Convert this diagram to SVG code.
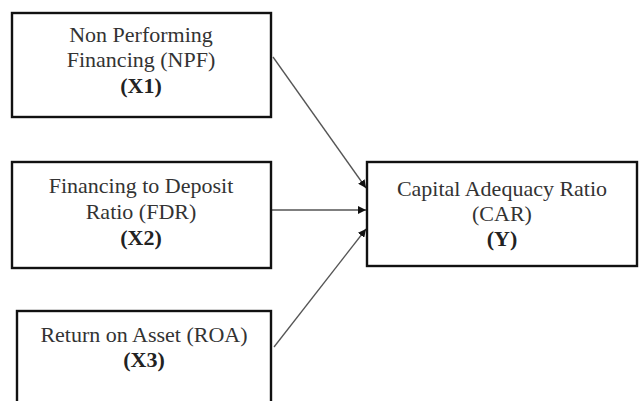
<svg xmlns="http://www.w3.org/2000/svg" width="640" height="401" viewBox="0 0 640 401">
<style>
.box{fill:#fff;stroke:#111;stroke-width:2.4}
.t{font-family:'Liberation Serif','DejaVu Serif',serif;font-size:22px;fill:#333;text-anchor:middle}
.b{font-weight:bold;fill:#222}
.c{stroke:#555;stroke-width:1.3;fill:none;marker-end:url(#ah)}
</style>
<defs>
<marker id="ah" viewBox="0 0 10 10" refX="10" refY="5" markerWidth="8" markerHeight="8" markerUnits="userSpaceOnUse" orient="auto">
<path d="M0,0 L10,5 L0,10 z" fill="#111"/>
</marker>
</defs>
<rect width="640" height="401" fill="#fff"/>
<g id="connectors">
<line class="c" x1="273" y1="57" x2="366" y2="188"/>
<line class="c" x1="272" y1="210" x2="366" y2="210"/>
<line class="c" x1="274" y1="347" x2="366" y2="229"/>
</g>
<g id="x1">
<rect class="box" x="12" y="13" width="259" height="104"/>
<text class="t" x="141" y="42">Non Performing</text>
<text class="t" x="141" y="67">Financing (NPF)</text>
<text class="t b" x="141" y="93">(X1)</text>
</g>
<g id="x2">
<rect class="box" x="12" y="162" width="259" height="106"/>
<text class="t" x="141" y="193">Financing to Deposit</text>
<text class="t" x="141" y="219">Ratio (FDR)</text>
<text class="t b" x="141" y="245">(X2)</text>
</g>
<g id="x3">
<rect class="box" x="17" y="311" width="254" height="110"/>
<text class="t" x="144" y="342">Return on Asset (ROA)</text>
<text class="t b" x="144" y="367">(X3)</text>
</g>
<g id="y">
<rect class="box" x="367" y="162" width="270" height="104"/>
<text class="t" x="502" y="196">Capital Adequacy Ratio</text>
<text class="t" x="502" y="221">(CAR)</text>
<text class="t b" x="502" y="246">(Y)</text>
</g>
</svg>
